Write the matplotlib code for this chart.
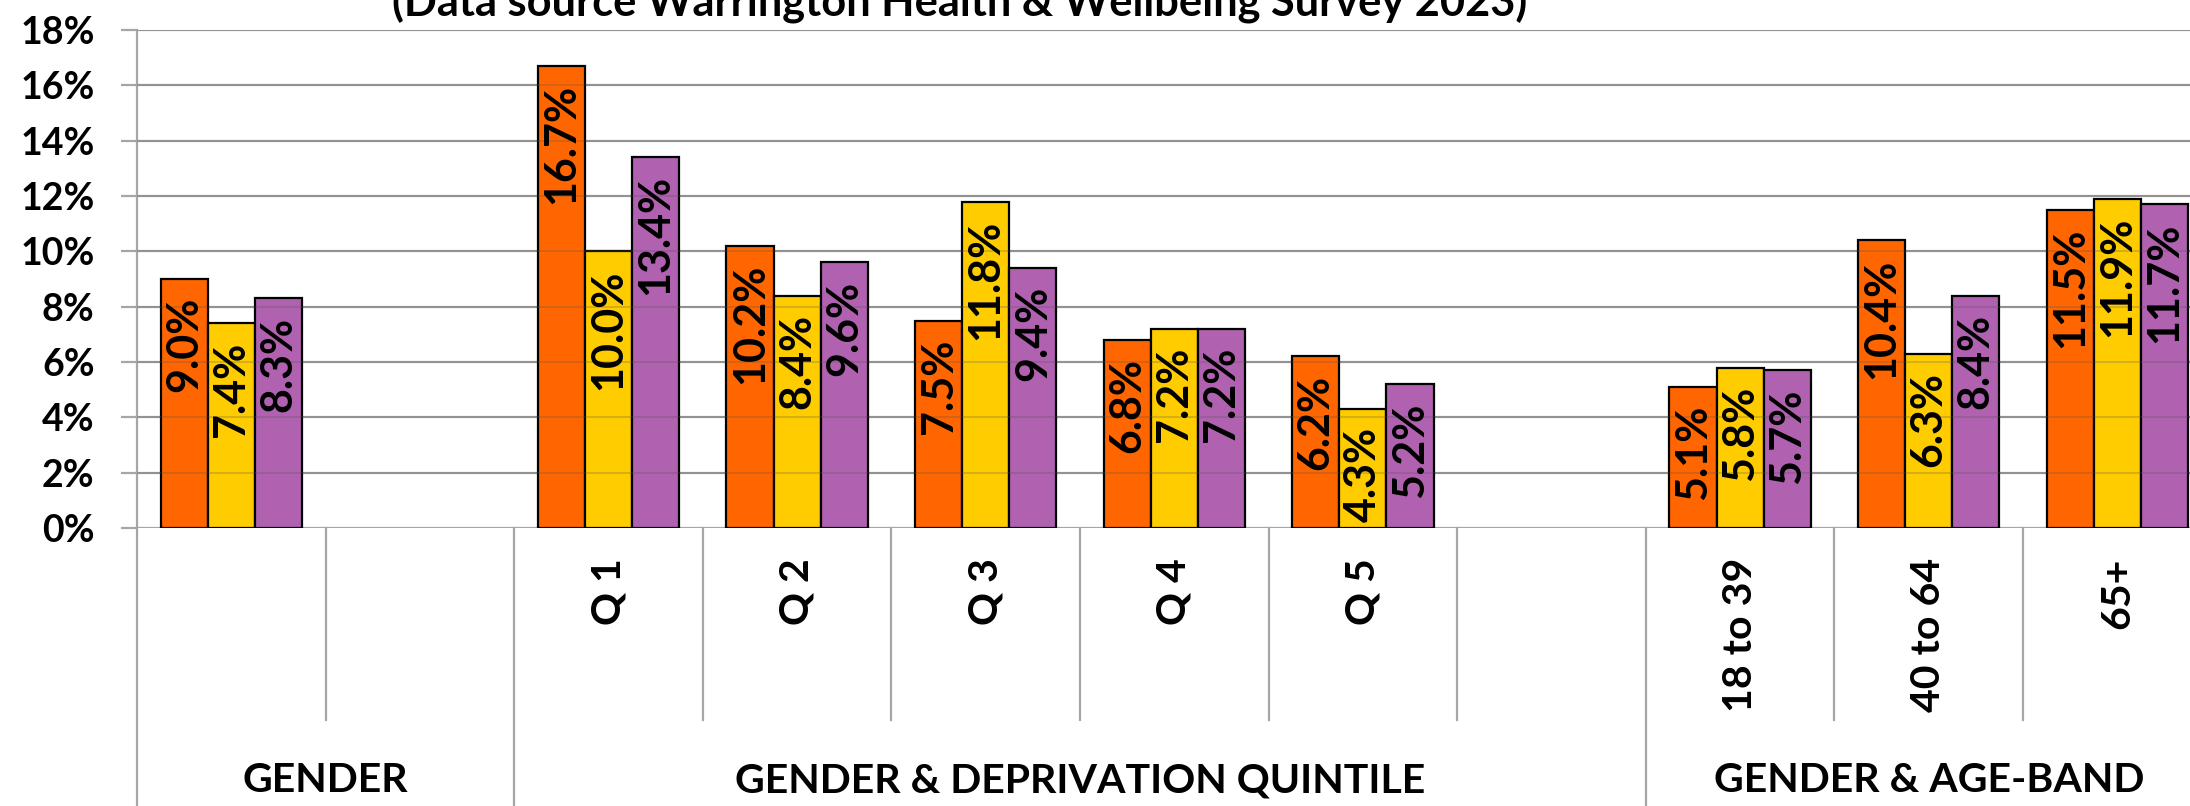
import matplotlib
matplotlib.use("Agg")
import matplotlib.pyplot as plt
import numpy as np

# ---- data ----
categories = ["", "", "Q 1", "Q 2", "Q 3", "Q 4", "Q 5", "", "18 to 39", "40 to 64", "65+"]
groups = ["GENDER", "GENDER & DEPRIVATION QUINTILE", "GENDER & AGE-BAND"]
group_sizes = [2, 6, 3]
series_a = [9.0, None, 16.7, 10.2, 7.5, 6.8, 6.2, None, 5.1, 10.4, 11.5]
series_b = [7.4, None, 10.0, 8.4, 11.8, 7.2, 4.3, None, 5.8, 6.3, 11.9]
series_c = [8.3, None, 13.4, 9.6, 9.4, 7.2, 5.2, None, 5.7, 8.4, 11.7]
yticks = [0, 2, 4, 6, 8, 10, 12, 14, 16, 18]
title = "(Data source Warrington Health & Wellbeing Survey 2023)"

colors = ["#FF6600", "#FFCC00", "#B062B0"]
FONT = "Lato"
grid_color = "#A6A6A6"

W, H = 2190, 806
fig = plt.figure(figsize=(W / 100, H / 100), dpi=100)
left_px, top_px, zero_px = 137, 30, 528
slot_px = 188.6
n = len(categories)
ax = fig.add_axes([left_px / W, (H - zero_px) / H, n * slot_px / W, (zero_px - top_px) / H])
ax.set_xlim(0, n)
ax.set_ylim(0, 18)

# grid below
for t in yticks:
    ax.axhline(t, color=grid_color, lw=1.6, zorder=0)

bw = 0.25
for j, ser in enumerate([series_a, series_b, series_c]):
    for i, v in enumerate(ser):
        if v is None:
            continue
        x = i + 0.5 + (j - 1) * bw
        ax.bar(x, v, width=bw, color=colors[j], edgecolor="black", linewidth=1.6, zorder=2)
        ax.annotate(f"{v:.1f}%", xy=(x, v), xytext=(0, -13), textcoords="offset points",
                    rotation=90, ha="center", va="top", fontsize=31, fontfamily=FONT,
                    fontweight="bold", color="black", zorder=4)

# faint grid over bars
for t in yticks[1:]:
    ax.axhline(t, color="#555555", lw=1.4, alpha=0.25, zorder=3)

for s in ["top", "right", "bottom"]:
    ax.spines[s].set_visible(False)
ax.spines["left"].set_color(grid_color)
ax.spines["left"].set_linewidth(1.6)
ax.set_yticks(yticks)
ax.set_yticklabels([f"{t}%" for t in yticks], fontsize=27, fontfamily=FONT, fontweight="bold")
ax.tick_params(axis="y", length=11.5, width=1.6, color=grid_color, pad=19)
ax.set_xticks([])

tr = ax.get_xaxis_transform()
ax_h = zero_px - top_px
def yfrac(py):
    return (zero_px - py) / ax_h

# left axis extension
ax.plot([0, 0], [0, yfrac(H + 5)], transform=tr, color=grid_color, lw=1.6, clip_on=False)

# separators
bounds = np.cumsum([0] + group_sizes)
for k in range(1, n + 1):
    if k in bounds:
        y_end = yfrac(H + 5)
    else:
        y_end = yfrac(720)
    ax.plot([k, k], [0, y_end], transform=tr, color=grid_color, lw=1.6, clip_on=False)

# category labels
for i, c in enumerate(categories):
    if c:
        ax.text(i + 0.5, yfrac(558), c, transform=tr, rotation=90, ha="center", va="top",
                fontsize=29.5, fontfamily=FONT, fontweight="bold")

# group labels
for g, a, b in zip(groups, bounds[:-1], bounds[1:]):
    ax.text((a + b) / 2, yfrac(781), g, transform=tr, ha="center", va="center",
            fontsize=29.5, fontfamily=FONT, fontweight="bold")

# title (partly cropped at the top, as in the source)
t = fig.text(960 / W, 1 - 17 / H, title, ha="center", va="baseline",
             fontsize=28, fontfamily=FONT, fontweight="bold")
fig.canvas.draw()
wpx = t.get_window_extent().width
t.set_fontsize(28 * 1134 / wpx)

fig.savefig("out.png", dpi=100)
